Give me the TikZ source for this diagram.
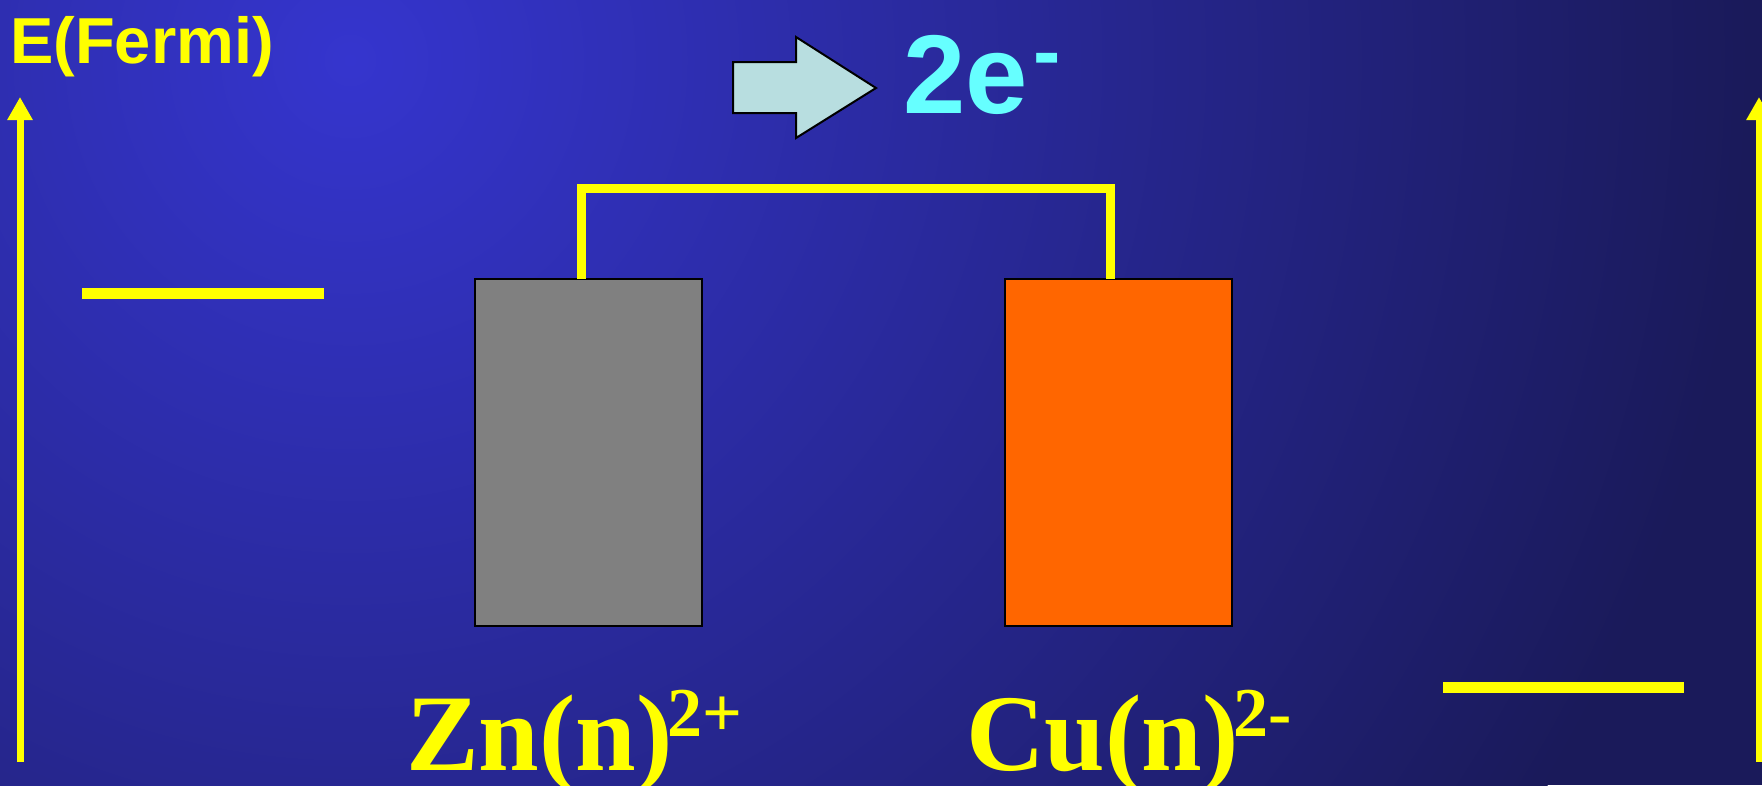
\documentclass[tikz,border=0pt]{standalone}
\usepackage{fontspec}
\setmainfont{Liberation Serif}
\newfontfamily\sansf{Liberation Sans}
\usetikzlibrary{arrows.meta}
\definecolor{bglight}{HTML}{3535CE}
\definecolor{bgdark}{HTML}{1A1A5A}
\definecolor{ylw}{HTML}{FFFF00}
\definecolor{cyantext}{HTML}{66FFFF}
\definecolor{arrowfill}{HTML}{B8DEE0}
\definecolor{zngrey}{HTML}{808080}
\definecolor{cuorange}{HTML}{FF6600}
\tikzset{
  axis/.style={draw=ylw, line width=7pt, -{Triangle[length=23pt,width=24pt]}, ylw},
  level/.style={draw=ylw, line width=11pt},
  wire/.style={draw=ylw, line width=9pt, line join=miter},
  electrode/.style={draw=black, line width=1.5pt, minimum width=227pt, minimum height=347pt, inner sep=0pt},
  ionlabel/.style={text=ylw, inner sep=0pt, anchor=base west, font=\fontsize{109}{109}\selectfont\bfseries},
}
\begin{document}
\begin{tikzpicture}[x=1pt, y=-1pt]
\useasboundingbox (0,0) rectangle (1762,785);
% background
\fill[bgdark] (0,0) rectangle (1762,785);
\begin{scope}
\clip (0,0) rectangle (1762,785);
\shade[inner color=bglight, outer color=bgdark] (350,60) circle[radius=1400pt];
\end{scope}
% axes
\coordinate (la0) at (20,762);
\coordinate (la1) at (20,97);
\coordinate (ra0) at (1759,762);
\coordinate (ra1) at (1759,97);
\draw[axis] (la0) -- (la1);
\draw[axis] (ra0) -- (ra1);
\node[text=ylw, inner sep=0pt, anchor=base west, font=\sansf\bfseries\fontsize{65}{65}\selectfont] (efermi) at (10,63) {E(Fermi)};
% Fermi levels
\coordinate (l0) at (82,293);
\coordinate (l1) at (324,293);
\coordinate (r0) at (1443,687);
\coordinate (r1) at (1684,687);
\draw[level] (l0) -- (l1);
\draw[level] (r0) -- (r1);
% electrodes
\node[electrode, fill=zngrey] (zn) at (588.5,452.5) {};
\node[electrode, fill=cuorange] (cu) at (1118.5,452.5) {};
% wire
\coordinate (wa) at (581,279);
\coordinate (wb) at (1110,279);
\draw[wire] (wa) -- ++(0,-91) -| (wb);
% electron arrow
\draw[fill=arrowfill, draw=black, line width=2pt, line join=miter]
  (733,62) -- (796,62) -- (796,37) -- (876,88) -- (796,138) -- (796,113) -- (733,113) -- cycle;
\node[text=cyantext, inner sep=0pt, anchor=base west, font=\sansf\bfseries\fontsize{112}{112}\selectfont] (etext) at (903,113)
  {2e\kern6pt\raisebox{34pt}{\fontsize{82}{82}\selectfont -}};
% ion labels
\node[ionlabel] (znlab) at (406,770) {Zn(n)\kern-5pt\raisebox{34pt}{\fontsize{70}{70}\selectfont 2+}};
\node[ionlabel] (culab) at (966,770) {Cu(n)\kern-5pt\raisebox{34pt}{\fontsize{70}{70}\selectfont 2-}};
\end{tikzpicture}
\end{document}
